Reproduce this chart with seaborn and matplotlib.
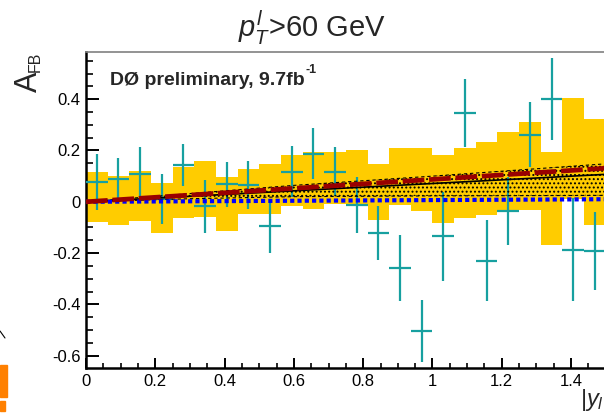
import numpy as np
import pandas as pd
import matplotlib
matplotlib.use("Agg")
import matplotlib.pyplot as plt
import seaborn as sns
from matplotlib.patches import Rectangle
from matplotlib.lines import Line2D
from matplotlib.ticker import MultipleLocator, FixedLocator, FixedFormatter

# ---------------- data ----------------
bin_edges = np.linspace(0.0, 1.5, 25)          # |y_l| bins, width 0.0625
data_val = [0.077, 0.087, 0.107, 0.012, 0.144, -0.018, 0.068, 0.066,
            -0.095, 0.118, 0.187, 0.118, -0.012, -0.122, -0.258, -0.503,
            -0.135, 0.347, -0.229, -0.037, 0.261, 0.402, -0.187, -0.191]
data_err = [0.108, 0.083, 0.105, 0.097, 0.083, 0.104, 0.088, 0.093,
            0.105, 0.100, 0.100, 0.097, 0.108, 0.104, 0.128, 0.120,
            0.175, 0.133, 0.157, 0.133, 0.127, 0.160, 0.200, 0.153]
syst_hi = [0.116, 0.100, 0.120, 0.073, 0.135, 0.159, 0.095, 0.129,
           0.146, 0.181, 0.194, 0.194, 0.200, 0.148, 0.209, 0.209,
           0.181, 0.209, 0.235, 0.272, 0.311, 0.194, 0.404, 0.324]
syst_lo = [-0.077, -0.092, -0.073, -0.122, -0.062, -0.060, -0.112, -0.047,
           -0.047, -0.015, -0.030, -0.010, -0.013, -0.070, -0.012, -0.034,
           -0.082, -0.062, -0.053, -0.040, -0.031, -0.168, 0.010, -0.090]
fit_x = [0.0, 1.5]
fit_black = [0.0, 0.107]
fit_red = [0.0, 0.131]
pred_blue = [0.0, 0.010]
band_x = [0.0, 0.3, 0.6, 1.0, 1.5]
band_lo = [0.0, 0.012, 0.020, 0.023, 0.025]
band_hi = [0.0, 0.032, 0.064, 0.100, 0.148]
x_ticks = [0, 0.2, 0.4, 0.6, 0.8, 1.0, 1.2, 1.4]
x_ticklabels = ["0", "0.2", "0.4", "0.6", "0.8", "1", "1.2", "1.4"]
y_ticks = [-0.6, -0.4, -0.2, 0.0, 0.2, 0.4]
y_ticklabels = ["-0.6", "-0.4", "-0.2", "0", "0.2", "0.4"]

# ---------------- style ----------------
sns.set_theme(style="ticks")
plt.rcParams["font.family"] = ["Liberation Sans", "DejaVu Sans"]
plt.rcParams["mathtext.fontset"] = "custom"
plt.rcParams["mathtext.rm"] = "Liberation Sans"
plt.rcParams["mathtext.it"] = "Liberation Sans:italic"
plt.rcParams["mathtext.bf"] = "Liberation Sans:bold"
plt.rcParams["hatch.linewidth"] = 0.9

W, H = 604, 417
fig = plt.figure(figsize=(W / 100, H / 100), dpi=100)
fig.patch.set_facecolor("white")
ax = fig.add_axes([86 / W, 49 / H, 1 - 86 / W, 316 / H])
ax.set_facecolor("white")

edges = np.asarray(bin_edges)
centers = 0.5 * (edges[:-1] + edges[1:])
width = edges[1] - edges[0]

df = pd.DataFrame({"x": centers, "val": data_val, "err": data_err,
                   "hi": syst_hi, "lo": syst_lo})

# systematic (yellow) boxes
ax.bar(df["x"], df["hi"] - df["lo"], bottom=df["lo"], width=width,
       color="#ffcc00", linewidth=0, zorder=1)

# data points with errors
ax.errorbar(df["x"], df["val"], xerr=width / 2, yerr=df["err"], fmt="none",
            ecolor="#17a0a0", elinewidth=1.6, capsize=0, zorder=3)

# hatched fit band
ax.fill_between(band_x, band_lo, band_hi, facecolor="none", edgecolor="black",
                hatch="....", linewidth=0, zorder=4)
for yy in (band_lo, band_hi):
    sns.lineplot(x=band_x, y=yy, ax=ax, color="black", linewidth=0.8,
                 linestyle=(0, (3, 2.5)), zorder=5)

# lines
sns.lineplot(x=fit_x, y=fit_black, ax=ax, color="black", linewidth=1.2, zorder=6)
sns.lineplot(x=fit_x, y=pred_blue, ax=ax, color="#0000ff", linewidth=3.0,
             linestyle=(0, (1.0, 0.75)), zorder=6, solid_capstyle="butt")
sns.lineplot(x=fit_x, y=fit_red, ax=ax, color="#990000", linewidth=3.4,
             linestyle=(0, (4.6, 1.0)), zorder=7)

# axes
ax.set_xlim(0, 1.495)
ax.set_ylim(-0.648, 0.584)
ax.xaxis.set_major_locator(FixedLocator(x_ticks))
ax.xaxis.set_major_formatter(FixedFormatter(x_ticklabels))
ax.xaxis.set_minor_locator(MultipleLocator(0.05))
ax.yaxis.set_major_locator(FixedLocator(y_ticks))
ax.yaxis.set_major_formatter(FixedFormatter(y_ticklabels))
ax.yaxis.set_minor_locator(MultipleLocator(0.05))
ax.tick_params(axis="x", which="major", direction="in", length=7.2, width=1.4,
               labelsize=12, pad=4, colors="black", top=False)
ax.tick_params(axis="x", which="minor", direction="in", length=3.6, width=1.4,
               top=False)
ax.tick_params(axis="y", which="major", direction="in", length=9.4, width=1.4,
               labelsize=12, pad=4, colors="black", right=False)
ax.tick_params(axis="y", which="minor", direction="in", length=4.7, width=1.4,
               right=False)
for s in ("left", "bottom"):
    ax.spines[s].set_linewidth(1.8)
    ax.spines[s].set_color("black")
ax.spines["top"].set_linewidth(1.2)
ax.spines["top"].set_color("#808080")
ax.spines["right"].set_visible(False)
ax.set_xlabel("")
ax.set_ylabel("")

# texts
fig.text(238 / W, 1 - 37 / H, r"$p_{T}^{l}$>60 GeV", fontsize=21,
         ha="left", va="baseline")
fig.text(37 / W, 1 - 92 / H, "A", fontsize=22, rotation=90,
         rotation_mode="anchor", ha="left", va="baseline")
fig.text(40 / W, 1 - 72 / H, "FB", fontsize=11.5, rotation=90,
         rotation_mode="anchor", ha="left", va="baseline")
t = fig.text(110 / W, 1 - 85 / H, "DØ preliminary, 9.7fb", fontsize=14,
             fontweight="bold", ha="left", va="baseline")
fig.canvas.draw()
bb = t.get_window_extent()
fig.text((bb.x1 + 1) / W, 1 - 73 / H, "-1", fontsize=9, fontweight="bold",
         ha="left", va="baseline")
fig.text(580 / W, 1 - 406 / H, r"$|y_{l}|$", fontsize=17, ha="left",
         va="baseline")

# fragments of neighbouring panel at the left edge
fig.patches.append(Rectangle((0, 1 - 397 / H), 7 / W, 32 / H,
                             transform=fig.transFigure, color="#ff8000"))
fig.patches.append(Rectangle((0, 1 - 411 / H), 5 / W, 10 / H,
                             transform=fig.transFigure, color="#ff8000"))
fig.lines.append(Line2D([0, 5 / W], [1 - 331 / H, 1 - 338 / H],
                        transform=fig.transFigure, color="black", lw=0.8))

fig.savefig("out.png", dpi=100)
